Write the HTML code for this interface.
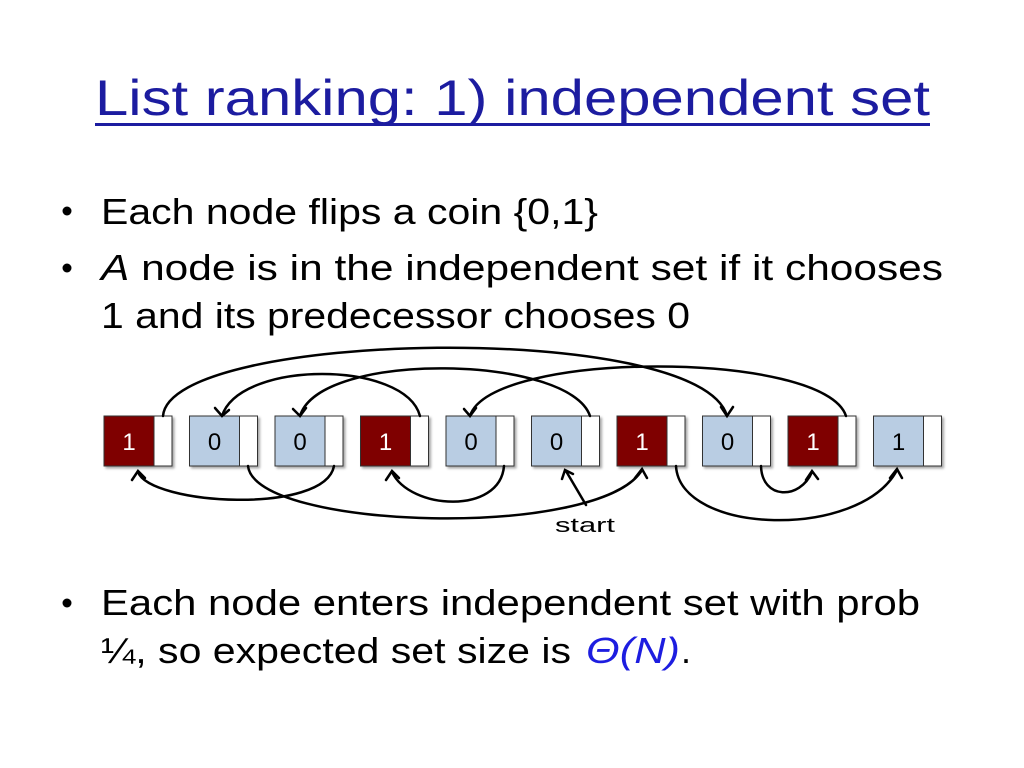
<!DOCTYPE html>
<html><head><meta charset="utf-8"><style>
html,body{margin:0;padding:0;background:#fff;}
svg{display:block;}
</style></head><body>
<svg width="1024" height="768" viewBox="0 0 1024 768" xmlns="http://www.w3.org/2000/svg" font-family="'Liberation Sans', sans-serif">
<defs>
<filter id="sh" x="-10%" y="-10%" width="130%" height="130%"><feDropShadow dx="2" dy="2" stdDeviation="1.2" flood-color="#000" flood-opacity="0.35"/></filter>
</defs>
<text x="95" y="115" font-size="50" fill="#1c1ca0" textLength="835" lengthAdjust="spacingAndGlyphs">List ranking: 1) independent set</text>
<rect x="95" y="123" width="835" height="3" fill="#1c1ca0"/>

<g font-size="36" fill="#000">
<circle cx="67" cy="211" r="4.5"/>
<text x="101" y="224" textLength="497" lengthAdjust="spacingAndGlyphs">Each node flips a coin {0,1}</text>
<circle cx="67" cy="268" r="4.5"/>
<text x="101" y="280" textLength="842" lengthAdjust="spacingAndGlyphs"><tspan font-style="italic">A</tspan> node is in the independent set if it chooses</text>
<text x="101" y="328" textLength="589" lengthAdjust="spacingAndGlyphs">1 and its predecessor chooses 0</text>
<circle cx="67" cy="603" r="4.5"/>
<text x="101" y="615" textLength="819" lengthAdjust="spacingAndGlyphs">Each node enters independent set with prob</text>
<text x="101" y="663" textLength="470" lengthAdjust="spacingAndGlyphs">¼, so expected set size is</text>
<text x="586" y="663" fill="#1d1de0" font-style="italic" textLength="94" lengthAdjust="spacingAndGlyphs">Θ(N)</text>
<text x="681" y="663">.</text>
</g>

<g filter="url(#sh)" stroke="#333" stroke-width="1">
<rect x="104" y="416" width="50" height="50" fill="#7f0000"/><rect x="154" y="416" width="18" height="50" fill="#fff"/>
<rect x="189.5" y="416" width="50" height="50" fill="#b9cde3"/><rect x="239.5" y="416" width="18" height="50" fill="#fff"/>
<rect x="275" y="416" width="50" height="50" fill="#b9cde3"/><rect x="325" y="416" width="18" height="50" fill="#fff"/>
<rect x="360.5" y="416" width="50" height="50" fill="#7f0000"/><rect x="410.5" y="416" width="18" height="50" fill="#fff"/>
<rect x="446" y="416" width="50" height="50" fill="#b9cde3"/><rect x="496" y="416" width="18" height="50" fill="#fff"/>
<rect x="531.5" y="416" width="50" height="50" fill="#b9cde3"/><rect x="581.5" y="416" width="18" height="50" fill="#fff"/>
<rect x="617" y="416" width="50" height="50" fill="#7f0000"/><rect x="667" y="416" width="18" height="50" fill="#fff"/>
<rect x="702.5" y="416" width="50" height="50" fill="#b9cde3"/><rect x="752.5" y="416" width="18" height="50" fill="#fff"/>
<rect x="788" y="416" width="50" height="50" fill="#7f0000"/><rect x="838" y="416" width="18" height="50" fill="#fff"/>
<rect x="873.5" y="416" width="50" height="50" fill="#b9cde3"/><rect x="923.5" y="416" width="18" height="50" fill="#fff"/>
</g>
<g font-size="24" text-anchor="middle">
<text x="129" y="450" fill="#fff">1</text>
<text x="214.5" y="450" fill="#000">0</text>
<text x="300" y="450" fill="#000">0</text>
<text x="385.5" y="450" fill="#fff">1</text>
<text x="471" y="450" fill="#000">0</text>
<text x="556.5" y="450" fill="#000">0</text>
<text x="642" y="450" fill="#fff">1</text>
<text x="727.5" y="450" fill="#000">0</text>
<text x="813" y="450" fill="#fff">1</text>
<text x="898.5" y="450" fill="#000">1</text>
</g>

<g fill="none" stroke="#000" stroke-width="2.5" stroke-linecap="round">
<path d="M163 416 C170 330 700 320 727 416"/>
<path d="M420 416 C405 360 240 360 222 416"/>
<path d="M590 416 C570 355 320 350 300 416"/>
<path d="M846 416 C825 350 490 350 470 416"/>
<path d="M334 466 C325 515 150 505 138 472"/>
<path d="M248 466 C255 530 600 540 642 470"/>
<path d="M504 466 C500 515 410 510 392 472"/>
<path d="M676 466 C680 535 860 540 897 470"/>
<path d="M761 466 C762 500 800 500 812 472"/>
<path d="M586 505 L566 471"/>
<path d="M721 407 L727 416 L733 407"/>
<path d="M215 408 L222 416 L229 410"/>
<path d="M293 409 L300 416 L306 408"/>
<path d="M464 409 L470 416 L476 408"/>
<path d="M132 480 L138 471 L145 478"/>
<path d="M635 478 L642 469 L647 478"/>
<path d="M386 480 L392 471 L399 478"/>
<path d="M890 478 L897 469 L902 478"/>
<path d="M806 480 L812 471 L818 479"/>
<path d="M562 479 L565 470 L573 474"/>
</g>
<text x="585" y="532" font-size="20" text-anchor="middle" textLength="60" lengthAdjust="spacingAndGlyphs">start</text>
</svg>
</body></html>
